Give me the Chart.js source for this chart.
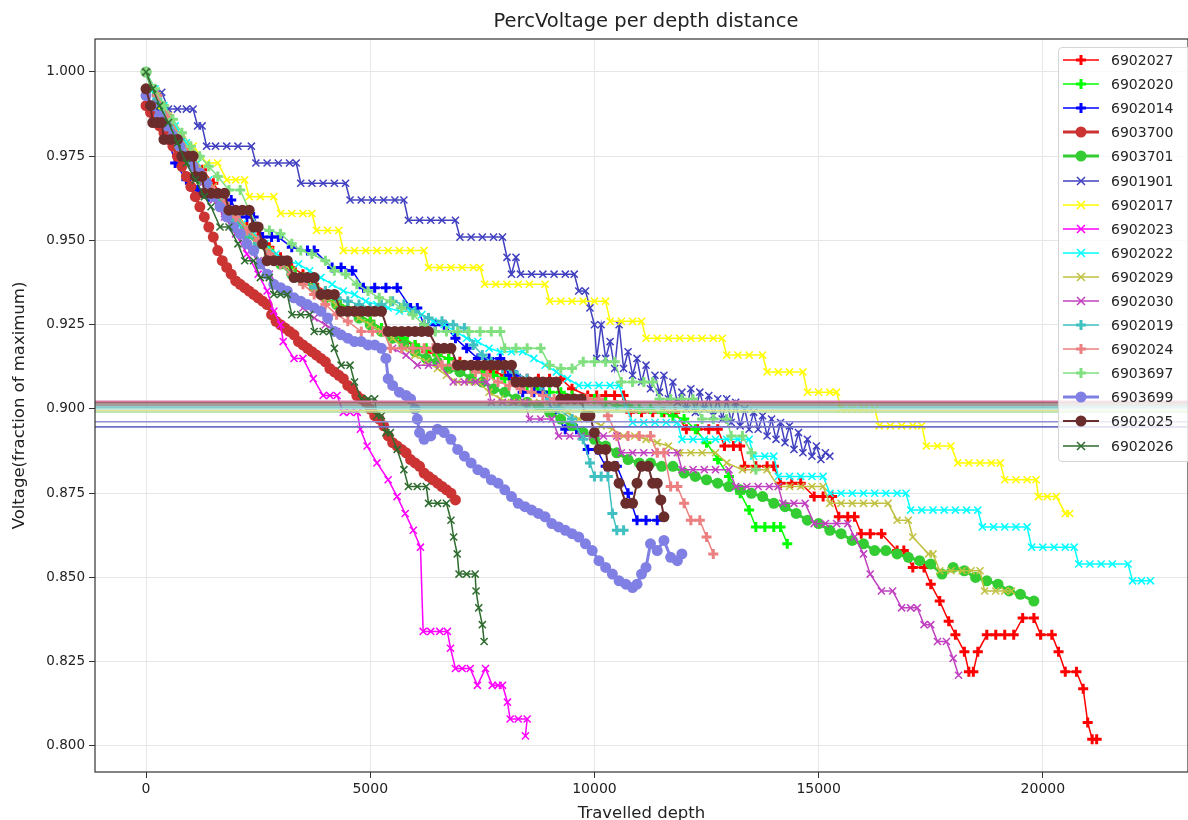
<!DOCTYPE html>
<html>
<head>
<meta charset="utf-8">
<title>PercVoltage per depth distance</title>
<script src="https://cdn.jsdelivr.net/npm/chart.js@4.4.1/dist/chart.umd.min.js"></script>
<style>
  html, body { margin: 0; padding: 0; background: #fff; overflow: hidden; }
  #wrap { position: relative; width: 1188px; height: 820px; font-family: "DejaVu Sans", sans-serif; }
  #chart { position: absolute; left: 0; top: 0; }
  #title {
    position: absolute; left: 95px; width: 1102px; top: 9px; text-align: center;
    font-size: 19.5px; color: #222; line-height: 24px; white-space: nowrap;
  }
  #legend {
    position: absolute; left: 1058px; top: 47px; width: 150px; height: 415px;
    box-sizing: border-box; border: 1px solid #d4d4d4; border-radius: 4px;
    background: rgba(255, 255, 255, 0.8);
  }
  .row { height: 24.1px; display: flex; align-items: center; }
  .row svg { margin-left: 4px; flex: none; }
  .row span { margin-left: 12px; font-size: 14px; color: #262626; }
</style>
</head>
<body>
<div id="wrap">
  <canvas id="chart" width="1188" height="820"></canvas>
  <div id="title">PercVoltage per depth distance</div>
  <div id="legend"></div>
</div>
<script>
// float ids, in plotting order
const floatIds = ["6902027", "6902020", "6902014", "6903700", "6903701", "6901901", "6902017",
  "6902023", "6902022", "6902029", "6902030", "6902019", "6902024", "6903697", "6903699",
  "6902025", "6902026"];

const xTickValues = [0, 5000, 10000, 15000, 20000];
const yTickValues = [0.8, 0.825, 0.85, 0.875, 0.9, 0.925, 0.95, 0.975, 1.0];

// 90% threshold lines, one per float group
const thresholdLevels = [0.9023, 0.9018, 0.9012, 0.9006, 0.9001, 0.8996, 0.8991, 0.8962, 0.8947];

// [travelled depth, voltage fraction]
const v6902027 = [[0,1.000],[250,0.993],[500,0.987],[750,0.981],[1000,0.976],[1250,0.971],[1500,0.967],[1750,0.962],[2000,0.958],[2250,0.954],[2500,0.951],[2750,0.948],[3000,0.945],[3250,0.942],[3500,0.940],[3750,0.937],[4000,0.935],[4250,0.932],[4500,0.930],[4750,0.928],[5000,0.926],[5250,0.924],[5500,0.922],[5750,0.920],[6000,0.919],[6250,0.917],[6500,0.916],[6750,0.915],[7000,0.914],[7250,0.913],[7500,0.912],[7750,0.911],[8000,0.910],[8250,0.909],[8500,0.909],[8750,0.909],[9000,0.909],[9250,0.909],[9500,0.906],[9850,0.904],[10050,0.904],[10250,0.904],[10450,0.904],[10650,0.904],[10800,0.899],[11050,0.899],[11300,0.899],[11550,0.899],[11800,0.899],[12050,0.894],[12300,0.894],[12550,0.894],[12750,0.894],[12900,0.889],[13100,0.889],[13250,0.889],[13350,0.883],[13600,0.883],[13850,0.883],[14000,0.883],[14150,0.878],[14400,0.878],[14600,0.878],[14900,0.874],[15100,0.874],[15300,0.874],[15450,0.868],[15650,0.868],[15800,0.868],[15950,0.863],[16150,0.863],[16400,0.863],[16750,0.858],[16900,0.858],[17100,0.853],[17350,0.853],[17500,0.848],[17700,0.843],[17900,0.837],[18050,0.833],[18250,0.828],[18350,0.822],[18450,0.822],[18550,0.828],[18750,0.833],[18950,0.833],[19150,0.833],[19350,0.833],[19550,0.838],[19800,0.838],[19950,0.833],[20200,0.833],[20350,0.828],[20500,0.822],[20750,0.822],[20900,0.817],[21000,0.807],[21100,0.802],[21200,0.802]];

const v6902020 = [[0,1.000],[250,0.993],[500,0.986],[750,0.980],[1000,0.975],[1250,0.969],[1500,0.965],[1750,0.961],[2000,0.957],[2250,0.953],[2500,0.950],[2750,0.947],[3000,0.944],[3250,0.941],[3500,0.939],[3750,0.936],[4000,0.934],[4250,0.932],[4500,0.930],[4750,0.928],[5000,0.926],[5250,0.924],[5500,0.922],[5750,0.921],[6000,0.919],[6250,0.918],[6500,0.916],[6750,0.915],[7000,0.913],[7250,0.912],[7500,0.911],[7750,0.910],[8000,0.909],[8250,0.908],[8500,0.907],[8750,0.906],[9000,0.905],[9250,0.905],[9500,0.904],[9750,0.903],[10000,0.903],[10250,0.902],[10500,0.901],[10750,0.901],[11000,0.900],[11250,0.900],[11500,0.899],[11750,0.898],[12000,0.897],[12250,0.894],[12500,0.890],[12750,0.885],[13000,0.880],[13250,0.875],[13450,0.870],[13600,0.865],[13800,0.865],[14000,0.865],[14150,0.865],[14300,0.860]];

const v6902014 = [[0,1.000],[250,0.990],[500,0.980],[650,0.973],[900,0.968],[1150,0.965],[1400,0.963],[1650,0.962],[1900,0.962],[2050,0.957],[2250,0.957],[2400,0.957],[2600,0.951],[2800,0.951],[2950,0.951],[3250,0.948],[3600,0.947],[3750,0.947],[4150,0.942],[4350,0.942],[4600,0.941],[4850,0.936],[5100,0.936],[5350,0.936],[5600,0.936],[5900,0.930],[6050,0.930],[6200,0.925],[6450,0.925],[6650,0.925],[6900,0.921],[7150,0.918],[7400,0.915],[7650,0.915],[7900,0.915],[8100,0.910],[8250,0.910],[8400,0.905],[8650,0.905],[8850,0.905],[9100,0.899],[9350,0.894],[9600,0.894],[9850,0.888],[10050,0.888],[10250,0.883],[10500,0.883],[10750,0.875],[10950,0.867],[11150,0.867],[11400,0.867]];

const v6903700 = [[0,0.990],[100,0.988],[200,0.986],[300,0.984],[400,0.982],[500,0.980],[600,0.978],[700,0.975],[800,0.972],[900,0.969],[1000,0.966],[1100,0.963],[1200,0.960],[1300,0.957],[1400,0.954],[1500,0.951],[1600,0.947],[1700,0.944],[1800,0.942],[1900,0.940],[2000,0.938],[2100,0.937],[2200,0.936],[2300,0.935],[2400,0.934],[2500,0.933],[2600,0.932],[2700,0.931],[2800,0.928],[2900,0.926],[3000,0.925],[3100,0.924],[3200,0.923],[3300,0.922],[3400,0.920],[3500,0.919],[3600,0.918],[3700,0.917],[3800,0.916],[3900,0.915],[4000,0.914],[4100,0.912],[4200,0.911],[4300,0.910],[4400,0.909],[4500,0.907],[4600,0.906],[4700,0.904],[4800,0.903],[4900,0.902],[5000,0.900],[5100,0.898],[5200,0.897],[5300,0.895],[5400,0.892],[5500,0.890],[5600,0.889],[5700,0.888],[5800,0.887],[5900,0.885],[6000,0.884],[6100,0.883],[6200,0.881],[6300,0.880],[6400,0.879],[6500,0.878],[6600,0.877],[6700,0.876],[6800,0.875],[6900,0.873]];

const v6903701 = [[0,1.000],[250,0.991],[500,0.984],[750,0.978],[1000,0.973],[1250,0.968],[1500,0.964],[1750,0.960],[2000,0.956],[2250,0.952],[2500,0.949],[2750,0.946],[3000,0.943],[3250,0.940],[3500,0.938],[3750,0.936],[4000,0.933],[4250,0.931],[4500,0.929],[4750,0.927],[5000,0.925],[5250,0.923],[5500,0.921],[5750,0.919],[6000,0.917],[6250,0.915],[6500,0.914],[6750,0.912],[7000,0.911],[7250,0.909],[7500,0.908],[7750,0.906],[8000,0.905],[8250,0.903],[8500,0.902],[8750,0.901],[9000,0.899],[9250,0.897],[9500,0.895],[9750,0.893],[10000,0.891],[10250,0.889],[10500,0.887],[10750,0.885],[11000,0.884],[11250,0.884],[11500,0.883],[11750,0.883],[12000,0.881],[12250,0.880],[12500,0.879],[12750,0.878],[13000,0.877],[13250,0.876],[13500,0.875],[13750,0.874],[14000,0.872],[14250,0.871],[14500,0.869],[14750,0.867],[15000,0.866],[15250,0.864],[15500,0.863],[15750,0.861],[16000,0.860],[16250,0.858],[16500,0.858],[16750,0.857],[17000,0.856],[17250,0.855],[17500,0.854],[17750,0.851],[18000,0.853],[18250,0.852],[18500,0.850],[18750,0.849],[19000,0.848],[19250,0.846],[19500,0.845],[19800,0.843]];

const v6901901 = [[0,1.000],[150,0.995],[350,0.994],[500,0.989],[700,0.989],[900,0.989],[1050,0.989],[1150,0.984],[1250,0.984],[1350,0.978],[1550,0.978],[1800,0.978],[2050,0.978],[2350,0.978],[2450,0.973],[2700,0.973],[2950,0.973],[3200,0.973],[3350,0.973],[3450,0.967],[3700,0.967],[3950,0.967],[4200,0.967],[4450,0.967],[4550,0.962],[4800,0.962],[5050,0.962],[5300,0.962],[5550,0.962],[5750,0.962],[5850,0.956],[6100,0.956],[6350,0.956],[6600,0.956],[6900,0.956],[7000,0.951],[7250,0.951],[7500,0.951],[7750,0.951],[7950,0.951],[8050,0.945],[8150,0.940],[8250,0.945],[8350,0.940],[8600,0.940],[8850,0.940],[9100,0.940],[9350,0.940],[9550,0.940],[9650,0.935],[9800,0.935],[9900,0.930],[10000,0.925],[10050,0.915],[10150,0.925],[10250,0.915],[10350,0.920],[10450,0.912],[10550,0.925],[10650,0.912],[10750,0.917],[10850,0.910],[10950,0.915],[11050,0.908],[11150,0.913],[11250,0.906],[11350,0.910],[11450,0.905],[11550,0.910],[11650,0.903],[11750,0.908],[11850,0.902],[11950,0.905],[12050,0.900],[12150,0.906],[12250,0.899],[12350,0.905],[12450,0.900],[12550,0.904],[12650,0.898],[12750,0.903],[12850,0.897],[12950,0.903],[13050,0.896],[13150,0.902],[13250,0.895],[13350,0.900],[13450,0.894],[13550,0.899],[13650,0.894],[13750,0.898],[13850,0.892],[13950,0.897],[14050,0.891],[14150,0.896],[14250,0.890],[14350,0.895],[14450,0.888],[14550,0.893],[14650,0.887],[14750,0.891],[14850,0.886],[14950,0.889],[15050,0.885],[15150,0.887],[15250,0.886]];

const v6902017 = [[0,1.000],[150,0.995],[350,0.990],[550,0.985],[800,0.980],[1050,0.978],[1350,0.973],[1600,0.973],[1800,0.968],[2000,0.968],[2200,0.968],[2300,0.963],[2550,0.963],[2850,0.963],[3000,0.958],[3250,0.958],[3500,0.958],[3700,0.958],[3800,0.953],[4050,0.953],[4300,0.953],[4400,0.947],[4650,0.947],[4900,0.947],[5150,0.947],[5400,0.947],[5650,0.947],[5900,0.947],[6200,0.947],[6300,0.942],[6550,0.942],[6800,0.942],[7050,0.942],[7300,0.942],[7450,0.942],[7550,0.937],[7800,0.937],[8050,0.937],[8300,0.937],[8550,0.937],[8900,0.937],[9000,0.932],[9250,0.932],[9500,0.932],[9750,0.932],[10000,0.932],[10250,0.932],[10350,0.926],[10600,0.926],[10850,0.926],[11050,0.926],[11150,0.921],[11400,0.921],[11650,0.921],[11900,0.921],[12150,0.921],[12400,0.921],[12650,0.921],[12850,0.921],[12950,0.916],[13200,0.916],[13450,0.916],[13750,0.916],[13850,0.911],[14100,0.911],[14350,0.911],[14650,0.911],[14750,0.905],[15000,0.905],[15250,0.905],[15400,0.905],[15500,0.900],[15750,0.900],[16000,0.900],[16250,0.900],[16350,0.895],[16600,0.895],[16850,0.895],[17100,0.895],[17300,0.895],[17400,0.889],[17650,0.889],[17950,0.889],[18100,0.884],[18350,0.884],[18600,0.884],[18850,0.884],[19050,0.884],[19150,0.879],[19400,0.879],[19650,0.879],[19850,0.879],[19900,0.874],[20100,0.874],[20300,0.874],[20500,0.869],[20600,0.869]];

const v6902023 = [[0,1.000],[250,0.992],[500,0.985],[750,0.980],[1000,0.975],[1250,0.969],[1500,0.964],[1750,0.958],[2000,0.952],[2250,0.946],[2500,0.940],[2700,0.935],[2850,0.929],[3000,0.925],[3060,0.920],[3300,0.915],[3500,0.915],[3730,0.909],[3950,0.904],[4100,0.904],[4260,0.904],[4400,0.899],[4550,0.899],[4710,0.899],[4780,0.894],[4930,0.889],[5150,0.884],[5400,0.879],[5600,0.874],[5780,0.869],[5960,0.864],[6120,0.859],[6180,0.834],[6350,0.834],[6550,0.834],[6720,0.834],[6790,0.829],[6900,0.823],[7050,0.823],[7230,0.823],[7390,0.818],[7570,0.823],[7720,0.818],[7850,0.818],[7950,0.818],[8060,0.813],[8120,0.808],[8300,0.808],[8500,0.808],[8460,0.803]];

const v6902022 = [[0,1.000],[200,0.995],[400,0.990],[650,0.984],[900,0.979],[1150,0.973],[1400,0.968],[1650,0.963],[1900,0.959],[2150,0.955],[2400,0.952],[2650,0.949],[2900,0.946],[3150,0.944],[3400,0.943],[3650,0.941],[3900,0.939],[4150,0.937],[4400,0.935],[4650,0.934],[4900,0.932],[5150,0.931],[5400,0.930],[5650,0.929],[5900,0.929],[6150,0.928],[6400,0.926],[6650,0.925],[6900,0.923],[7150,0.921],[7400,0.920],[7650,0.918],[7900,0.917],[8150,0.917],[8400,0.917],[8650,0.915],[8900,0.913],[9150,0.911],[9400,0.909],[9650,0.907],[9850,0.907],[10100,0.907],[10350,0.907],[10550,0.907],[10700,0.901],[10850,0.896],[11100,0.896],[11350,0.896],[11600,0.896],[11850,0.896],[11950,0.891],[12200,0.891],[12450,0.891],[12700,0.891],[12950,0.891],[13200,0.891],[13450,0.891],[13550,0.886],[13800,0.886],[14000,0.886],[14100,0.880],[14350,0.880],[14600,0.880],[14850,0.880],[15100,0.880],[15250,0.875],[15500,0.875],[15750,0.875],[16000,0.875],[16250,0.875],[16500,0.875],[16750,0.875],[16950,0.875],[17050,0.870],[17300,0.870],[17550,0.870],[17800,0.870],[18050,0.870],[18300,0.870],[18550,0.870],[18650,0.865],[18900,0.865],[19150,0.865],[19400,0.865],[19650,0.865],[19750,0.859],[20000,0.859],[20250,0.859],[20500,0.859],[20700,0.859],[20800,0.854],[21050,0.854],[21300,0.854],[21550,0.854],[21900,0.854],[22000,0.849],[22200,0.849],[22400,0.849]];

const v6902029 = [[0,1.000],[250,0.993],[500,0.987],[750,0.981],[1000,0.976],[1250,0.971],[1500,0.966],[1750,0.962],[2000,0.958],[2250,0.954],[2500,0.950],[2750,0.947],[3000,0.944],[3250,0.941],[3500,0.938],[3750,0.936],[4000,0.933],[4250,0.931],[4500,0.929],[4750,0.927],[5000,0.925],[5250,0.923],[5500,0.921],[5750,0.918],[6000,0.916],[6250,0.914],[6500,0.912],[6700,0.910],[6950,0.908],[7200,0.908],[7400,0.908],[7650,0.905],[7900,0.903],[8150,0.902],[8400,0.902],[8650,0.902],[8900,0.902],[9150,0.902],[9400,0.899],[9650,0.897],[9900,0.897],[10150,0.895],[10400,0.894],[10650,0.892],[10900,0.892],[11150,0.891],[11400,0.890],[11650,0.889],[11900,0.887],[12150,0.887],[12400,0.887],[12700,0.887],[12950,0.884],[13300,0.882],[13550,0.882],[13850,0.882],[14100,0.877],[14350,0.877],[14600,0.877],[14850,0.877],[15100,0.877],[15250,0.872],[15500,0.872],[15750,0.872],[16000,0.872],[16250,0.872],[16550,0.872],[16750,0.867],[17000,0.867],[17100,0.862],[17450,0.857],[17550,0.857],[17700,0.852],[17950,0.852],[18200,0.852],[18400,0.852],[18600,0.852],[18700,0.846],[18950,0.846],[19150,0.846],[19300,0.846]];

const v6902030 = [[0,1.000],[250,0.992],[500,0.985],[750,0.979],[1000,0.973],[1250,0.967],[1500,0.962],[1750,0.957],[2000,0.952],[2250,0.948],[2500,0.944],[2750,0.940],[3000,0.936],[3250,0.933],[3500,0.930],[3750,0.927],[4000,0.925],[4250,0.923],[4500,0.921],[4750,0.920],[5000,0.919],[5250,0.918],[5500,0.918],[5800,0.916],[6050,0.913],[6300,0.913],[6550,0.913],[6850,0.908],[7100,0.908],[7350,0.908],[7600,0.908],[7700,0.902],[7950,0.902],[8200,0.902],[8450,0.902],[8550,0.897],[8800,0.897],[9050,0.897],[9200,0.892],[9450,0.892],[9700,0.892],[9950,0.892],[10200,0.892],[10500,0.892],[10600,0.887],[10850,0.887],[11100,0.887],[11350,0.887],[11600,0.887],[11850,0.887],[11950,0.882],[12200,0.882],[12450,0.882],[12700,0.882],[13000,0.882],[13150,0.877],[13400,0.877],[13650,0.877],[13900,0.877],[14100,0.877],[14200,0.872],[14450,0.872],[14700,0.872],[14900,0.866],[15150,0.866],[15400,0.866],[15650,0.866],[15800,0.862],[16000,0.857],[16150,0.851],[16400,0.846],[16650,0.846],[16850,0.841],[17050,0.841],[17200,0.841],[17350,0.836],[17500,0.836],[17650,0.831],[17850,0.831],[18000,0.826],[18120,0.821]];

const v6902019 = [[0,1.000],[250,0.992],[500,0.986],[750,0.980],[1000,0.974],[1250,0.969],[1500,0.964],[1750,0.960],[2000,0.956],[2250,0.952],[2500,0.949],[2750,0.946],[3000,0.943],[3250,0.940],[3500,0.938],[3750,0.936],[4000,0.935],[4250,0.933],[4500,0.932],[4750,0.931],[5000,0.930],[5250,0.931],[5500,0.932],[5750,0.931],[6000,0.929],[6300,0.927],[6600,0.926],[6850,0.925],[7100,0.924],[7300,0.919],[7500,0.916],[7700,0.914],[7950,0.912],[8200,0.911],[8500,0.909],[8800,0.907],[9000,0.903],[9200,0.900],[9500,0.897],[9750,0.891],[9900,0.884],[10000,0.880],[10150,0.880],[10300,0.880],[10400,0.869],[10500,0.864],[10650,0.864]];

const v6902024 = [[0,1.000],[250,0.993],[500,0.987],[750,0.981],[1000,0.975],[1250,0.970],[1500,0.965],[1750,0.961],[2000,0.957],[2250,0.953],[2500,0.950],[2750,0.946],[3000,0.943],[3250,0.940],[3500,0.937],[3750,0.934],[4000,0.931],[4250,0.928],[4500,0.926],[4800,0.923],[5050,0.923],[5300,0.923],[5450,0.918],[5700,0.918],[5950,0.918],[6200,0.918],[6400,0.918],[6600,0.913],[6850,0.913],[7100,0.913],[7350,0.911],[7600,0.910],[7850,0.908],[8100,0.907],[8350,0.906],[8600,0.905],[8850,0.904],[9100,0.903],[9350,0.903],[9600,0.903],[9850,0.903],[10100,0.903],[10300,0.898],[10500,0.892],[10750,0.892],[11000,0.892],[11250,0.892],[11400,0.887],[11550,0.887],[11700,0.877],[11850,0.877],[12000,0.872],[12150,0.867],[12350,0.867],[12500,0.862],[12650,0.857]];

const v6903697 = [[0,1.000],[200,0.995],[400,0.990],[600,0.986],[800,0.982],[1000,0.978],[1200,0.975],[1400,0.972],[1600,0.969],[1850,0.965],[2100,0.965],[2300,0.959],[2500,0.954],[2750,0.953],[3000,0.952],[3250,0.949],[3450,0.947],[3700,0.946],[4000,0.944],[4200,0.941],[4450,0.940],[4700,0.937],[4950,0.935],[5200,0.933],[5450,0.932],[5700,0.930],[5950,0.928],[6200,0.925],[6450,0.923],[6700,0.923],[6950,0.923],[7200,0.923],[7450,0.923],[7700,0.923],[7900,0.923],[8000,0.918],[8250,0.918],[8500,0.918],[8800,0.918],[9000,0.913],[9250,0.912],[9500,0.912],[9750,0.914],[10000,0.914],[10250,0.914],[10450,0.914],[10600,0.908],[10850,0.908],[11100,0.908],[11300,0.908],[11450,0.903],[11700,0.903],[11950,0.903],[12200,0.903],[12400,0.897],[12650,0.897],[12950,0.897],[13050,0.892],[13300,0.892],[13500,0.887],[13600,0.882]];

const v6903699 = [[0,0.993],[150,0.990],[300,0.987],[450,0.984],[600,0.981],[750,0.978],[900,0.975],[1050,0.972],[1200,0.970],[1350,0.967],[1500,0.963],[1650,0.960],[1800,0.957],[1950,0.954],[2100,0.952],[2250,0.949],[2400,0.947],[2550,0.943],[2700,0.940],[2850,0.937],[3000,0.936],[3150,0.935],[3300,0.933],[3450,0.932],[3600,0.931],[3750,0.930],[3900,0.929],[4050,0.927],[4200,0.923],[4350,0.922],[4500,0.921],[4650,0.920],[4800,0.920],[4950,0.919],[5100,0.919],[5250,0.918],[5350,0.915],[5400,0.909],[5500,0.907],[5650,0.905],[5800,0.904],[5900,0.903],[6000,0.900],[6050,0.897],[6100,0.893],[6200,0.891],[6350,0.892],[6500,0.894],[6650,0.893],[6800,0.891],[6950,0.888],[7100,0.886],[7250,0.884],[7400,0.882],[7550,0.881],[7700,0.879],[7850,0.878],[8000,0.876],[8150,0.874],[8300,0.872],[8450,0.871],[8600,0.870],[8750,0.869],[8900,0.868],[9050,0.866],[9200,0.865],[9350,0.864],[9500,0.863],[9650,0.862],[9800,0.860],[9950,0.858],[10100,0.855],[10250,0.853],[10400,0.851],[10550,0.849],[10700,0.848],[10850,0.847],[10950,0.848],[11050,0.851],[11150,0.853],[11250,0.860],[11400,0.858],[11550,0.861],[11700,0.856],[11850,0.855],[11950,0.857]];

const v6902025 = [[0,0.995],[100,0.990],[150,0.985],[250,0.985],[350,0.985],[400,0.980],[550,0.980],[700,0.980],[800,0.975],[950,0.975],[1050,0.975],[1100,0.969],[1250,0.969],[1300,0.964],[1450,0.964],[1600,0.964],[1750,0.964],[1850,0.959],[2000,0.959],[2150,0.959],[2300,0.959],[2400,0.954],[2500,0.954],[2600,0.949],[2700,0.944],[2850,0.944],[3000,0.944],[3150,0.944],[3300,0.939],[3450,0.939],[3600,0.939],[3750,0.939],[3900,0.934],[4050,0.934],[4200,0.934],[4350,0.929],[4500,0.929],[4650,0.929],[4800,0.929],[4950,0.929],[5100,0.929],[5250,0.929],[5400,0.923],[5550,0.923],[5700,0.923],[5850,0.923],[6000,0.923],[6150,0.923],[6300,0.923],[6500,0.918],[6650,0.918],[6800,0.918],[6950,0.913],[7100,0.913],[7250,0.913],[7400,0.913],[7550,0.913],[7700,0.913],[7850,0.913],[8000,0.913],[8150,0.913],[8250,0.908],[8400,0.908],[8550,0.908],[8700,0.908],[8850,0.908],[9000,0.908],[9150,0.908],[9250,0.903],[9400,0.903],[9550,0.903],[9700,0.903],[9800,0.898],[9900,0.898],[10000,0.893],[10100,0.888],[10250,0.888],[10300,0.883],[10450,0.883],[10550,0.878],[10700,0.872],[10850,0.872],[10950,0.878],[11050,0.883],[11200,0.883],[11300,0.878],[11400,0.878],[11480,0.873],[11550,0.868]];

const v6902026 = [[0,1.000],[150,0.995],[300,0.990],[500,0.985],[700,0.979],[900,0.973],[1100,0.968],[1300,0.963],[1450,0.960],[1650,0.954],[1850,0.954],[2050,0.949],[2200,0.944],[2400,0.944],[2550,0.939],[2750,0.939],[2850,0.934],[3000,0.934],[3150,0.934],[3250,0.928],[3450,0.928],[3650,0.928],[3750,0.923],[3950,0.923],[4100,0.923],[4200,0.918],[4350,0.913],[4550,0.913],[4650,0.908],[4800,0.903],[4950,0.903],[5100,0.903],[5150,0.898],[5250,0.898],[5350,0.893],[5450,0.893],[5600,0.888],[5750,0.882],[5850,0.877],[6050,0.877],[6250,0.877],[6300,0.872],[6500,0.872],[6700,0.872],[6800,0.867],[6860,0.862],[6940,0.857],[6980,0.851],[7150,0.851],[7340,0.851],[7360,0.846],[7420,0.841],[7500,0.836],[7540,0.831]];

const seriesValues = [v6902027, v6902020, v6902014, v6903700, v6903701, v6901901, v6902017,
  v6902023, v6902022, v6902029, v6902030, v6902019, v6902024, v6903697, v6903699,
  v6902025, v6902026];

// styling
const colors = ["#ff0000", "#00ff00", "#0000ff", "#cc3333", "#33cc33", "#4040c0", "#ffff00",
  "#ff00ff", "#00ffff", "#c0c040", "#c040c0", "#40c0c0", "#ec8080", "#80e080", "#8080e4",
  "#6b2c2c", "#2e6b2e"];
const markers = ["plus", "plus", "plus", "dot", "dot", "x", "x", "x", "x", "x", "x",
  "plus", "plus", "plus", "dot", "dot", "x"];
const lineWidths = [1.5, 1.5, 1.5, 3, 3, 1.5, 1.5, 1.5, 1.5, 1.5, 1.5, 1.5, 1.5, 1.5, 3, 2, 1.5];
const thresholdColors = ["#d47aa8", "#9c6a6a", "#808080", "#6cbcbc", "#a8e0e0", "#e4e490",
  "#a4dca4", "#9090d8", "#7070c4"];

function pointOpts(kind, color) {
  if (kind === "plus") return { pointStyle: "cross", pointRadius: 5, pointBorderWidth: 3, pointBorderColor: color, pointBackgroundColor: color };
  if (kind === "x") return { pointStyle: "crossRot", pointRadius: 5, pointBorderWidth: 1.5, pointBorderColor: color, pointBackgroundColor: color };
  return { pointStyle: "circle", pointRadius: 5.5, pointBorderWidth: 0, pointBorderColor: color, pointBackgroundColor: color };
}

const datasets = seriesValues.map((vals, i) => ({
  label: floatIds[i],
  data: vals.map(([x, y]) => ({ x, y })),
  borderColor: colors[i],
  borderWidth: lineWidths[i],
  tension: 0,
  order: 100 - i,
  ...pointOpts(markers[i], colors[i])
}));

thresholdLevels.forEach((lvl, i) => {
  datasets.push({
    label: "threshold",
    data: [{ x: -2000, y: lvl }, { x: 24000, y: lvl }],
    borderColor: thresholdColors[i],
    borderWidth: 1.6,
    pointRadius: 0,
    order: 0
  });
});

// spine box around the plot area (matplotlib style)
const frame = {
  id: "frame",
  afterDatasetsDraw(chart) {
    const { ctx, chartArea: a } = chart;
    ctx.save();
    ctx.strokeStyle = "#333";
    ctx.lineWidth = 1.2;
    ctx.strokeRect(a.left, a.top, a.right - a.left, a.bottom - a.top);
    ctx.restore();
  }
};

const axisTitleFont = { family: "DejaVu Sans", size: 16.5 };

new Chart(document.getElementById("chart"), {
  type: "line",
  data: { datasets },
  plugins: [frame],
  options: {
    responsive: false,
    animation: false,
    events: [],
    layout: { padding: { top: 39, left: 0, right: 0, bottom: 0 }, autoPadding: false },
    plugins: {
      legend: { display: false },
      tooltip: { enabled: false },
      title: { display: false }
    },
    scales: {
      x: {
        type: "linear",
        min: -1138,
        max: 23237,
        afterBuildTicks: (s) => { s.ticks = xTickValues.map((v) => ({ value: v })); },
        afterFit: (s) => { s.height = 48; s.paddingLeft = 0; s.paddingRight = 0; },
        ticks: { color: "#222", font: { family: "DejaVu Sans", size: 14 }, padding: 3, maxRotation: 0, callback: (v) => String(v) },
        grid: { color: "#e6e6e6", tickColor: "#333", tickLength: 6 },
        border: { display: false },
        title: { display: true, text: "Travelled depth", color: "#222", font: axisTitleFont, padding: { top: 0, bottom: -4 } }
      },
      y: {
        min: 0.79228,
        max: 1.00979,
        afterBuildTicks: (s) => { s.ticks = yTickValues.map((v) => ({ value: v })); },
        afterFit: (s) => { s.width = 95; s.paddingTop = 0; s.paddingBottom = 0; },
        ticks: { color: "#222", font: { family: "DejaVu Sans", size: 13.5 }, padding: 4, callback: (v) => v.toFixed(3) },
        grid: { color: "#e6e6e6", tickColor: "#333", tickLength: 6 },
        border: { display: false },
        title: { display: true, text: "Voltage(fraction of maximum)", color: "#222", font: axisTitleFont, padding: { top: 10, bottom: 0 } }
      }
    }
  }
});

// legend box in the upper right corner of the axes
const legend = document.getElementById("legend");
const NS = "http://www.w3.org/2000/svg";
floatIds.forEach((id, i) => {
  const row = document.createElement("div");
  row.className = "row";
  const svg = document.createElementNS(NS, "svg");
  svg.setAttribute("width", "36");
  svg.setAttribute("height", "14");
  const line = document.createElementNS(NS, "line");
  line.setAttribute("x1", "0"); line.setAttribute("x2", "36");
  line.setAttribute("y1", "7"); line.setAttribute("y2", "7");
  line.setAttribute("stroke", colors[i]);
  line.setAttribute("stroke-width", String(lineWidths[i]));
  svg.appendChild(line);
  let mark;
  if (markers[i] === "dot") {
    mark = document.createElementNS(NS, "circle");
    mark.setAttribute("cx", "18"); mark.setAttribute("cy", "7"); mark.setAttribute("r", "5.5");
    mark.setAttribute("fill", colors[i]);
  } else {
    mark = document.createElementNS(NS, "path");
    const d = markers[i] === "plus" ? "M13 7 H23 M18 2 V12" : "M14 3 L22 11 M22 3 L14 11";
    mark.setAttribute("d", d);
    mark.setAttribute("stroke", colors[i]);
    mark.setAttribute("stroke-width", markers[i] === "plus" ? "3" : "1.5");
  }
  svg.appendChild(mark);
  const label = document.createElement("span");
  label.textContent = id;
  row.appendChild(svg);
  row.appendChild(label);
  legend.appendChild(row);
});
</script>
</body>
</html>
